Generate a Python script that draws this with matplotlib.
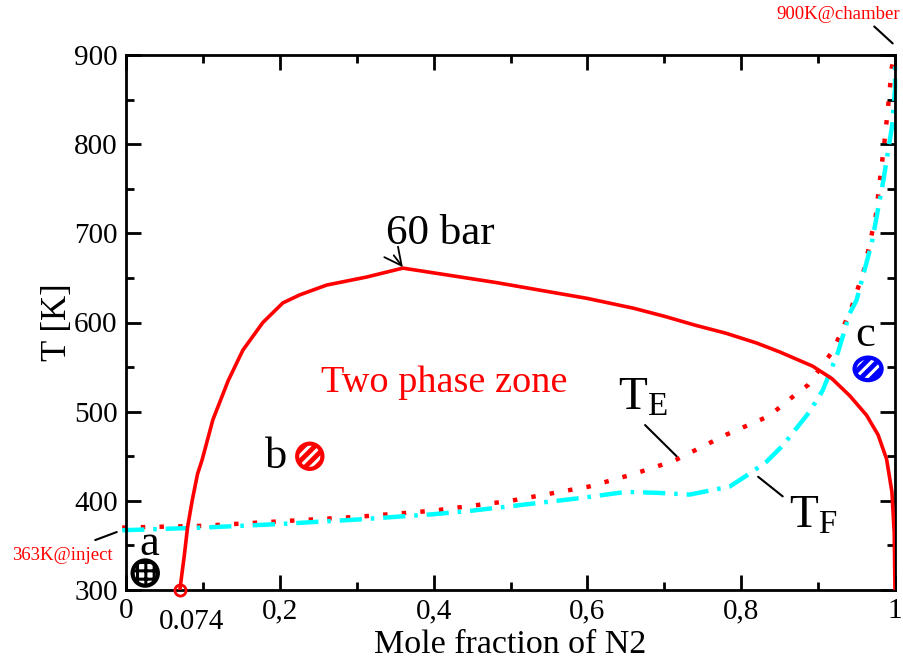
import numpy as np
import matplotlib
matplotlib.use("Agg")
import matplotlib.pyplot as plt
from matplotlib.path import Path
from matplotlib.transforms import Affine2D
from matplotlib.ticker import MultipleLocator, FixedLocator, FixedFormatter

plt.rcParams['font.family'] = ['Liberation Serif', 'DejaVu Serif']
plt.rcParams['mathtext.fontset'] = 'custom'
plt.rcParams['mathtext.rm'] = 'Liberation Serif'
plt.rcParams['mathtext.it'] = 'Liberation Serif'

# ---- data ----
# 60 bar phase boundary (red solid)
bound_x = [0.070, 0.076, 0.080, 0.086, 0.093, 0.099, 0.113, 0.133, 0.152, 0.178, 0.204,
           0.226, 0.261, 0.313, 0.360, 0.420, 0.480, 0.540, 0.600, 0.660, 0.700, 0.740,
           0.780, 0.820, 0.850, 0.893, 0.918, 0.941, 0.963, 0.978, 0.989, 0.996, 0.999, 1.000]
bound_T = [300, 340, 370, 400, 430, 446, 491, 535, 569, 600, 622,
           631, 642, 651, 661, 653, 645, 636, 627, 616, 607, 597,
           588, 577, 567, 551, 537, 518, 496, 474, 447, 410, 364, 300]

# T_E (red dotted)
te_x = [-0.005, 0.1, 0.2, 0.3, 0.4, 0.5, 0.602, 0.66, 0.713, 0.78, 0.836, 0.866, 0.887,
        0.919, 0.93, 0.944, 0.96, 0.975, 0.987, 0.991, 0.996, 1.0]
te_T = [370, 372, 377, 382, 389, 400, 416, 430, 445, 474, 495, 516, 530,
        568, 589, 618, 660, 720, 808, 842, 887, 900]

# T_F (cyan dash-dot)
tf_x = [-0.005, 0.1, 0.2, 0.3, 0.4, 0.45, 0.5, 0.59, 0.65, 0.69, 0.733, 0.785, 0.81,
        0.833, 0.854, 0.889, 0.906, 0.915, 0.926, 0.941, 0.95, 0.97, 0.985, 0.996, 1.0, 1.0]
tf_T = [367, 370, 374, 379, 385, 389, 394, 403, 410, 409, 407, 416, 430,
        444, 462, 500, 524, 543, 567, 610, 625, 690, 760, 819, 861, 895]

# state points a, b, c
pt_labels = ['a', 'b', 'c']
pt_x = [0.025, 0.239, 0.965]
pt_T = [319, 450, 548]

xtick_vals = [0, 0.2, 0.4, 0.6, 0.8, 1]
xtick_labels = ['0', '0,2', '0,4', '0,6', '0,8', '1']
ytick_vals = [300, 400, 500, 600, 700, 800, 900]

fig = plt.figure(figsize=(9.04, 6.62), dpi=100)
ax = fig.add_axes([126/904, 1-590/662, (895-126)/904, (590-55)/662])

ax.plot(bound_x, bound_T, color='red', lw=2.6, zorder=3, solid_joinstyle='round')
ax.plot([bound_x[0]], [bound_T[0]], 'o', mfc='none', mec='red', ms=8, mew=2,
        clip_on=False, zorder=4)
ax.plot(te_x, te_T, color='red', lw=3.2, ls=(0, (1, 3.2)), dash_capstyle='butt',
        clip_on=False, zorder=2)
ax.plot(tf_x, tf_T, color='#00ffff', lw=3.2, ls=(0, (5, 2, 0.8, 2)), dash_capstyle='butt',
        clip_on=False, zorder=2)

# hatched markers
circ = Path.unit_circle()
ell = circ.transformed(Affine2D().scale(1.2, 1.0))
plt.rcParams['hatch.linewidth'] = 2.2
styles = [
    dict(face='white', hatchc='black', edge='black', hatch='++', marker=circ, s=330),
    dict(face='red', hatchc='white', edge='red', hatch='///', marker=circ, s=330),
    dict(face='blue', hatchc='white', edge='blue', hatch='///', marker=ell, s=380),
]
for i, st in enumerate(styles):
    with plt.rc_context({'hatch.color': st['hatchc']}):
        ax.scatter([pt_x[i]], [pt_T[i]], s=st['s'], marker=st['marker'], facecolor=st['face'],
                   edgecolors=st['hatchc'], linewidths=0, hatch=st['hatch'], zorder=5,
                   clip_on=False)
    ax.scatter([pt_x[i]], [pt_T[i]], s=st['s'], marker=st['marker'], facecolor='none',
               edgecolors=st['edge'], linewidths=3, zorder=6, clip_on=False)

ax.text(0.030, 352, pt_labels[0], fontsize=32, ha='center', va='center')
ax.text(0.195, 449, pt_labels[1], fontsize=32, ha='center', va='center')
ax.text(0.961, 586, pt_labels[2], fontsize=32, ha='center', va='center')

ax.text(0.414, 532, 'Two phase zone', color='red', fontsize=27.5, ha='center', va='center')

ax.annotate('60 bar', xy=(0.360, 662), xytext=(0.409, 700), fontsize=31,
            ha='center', va='center',
            arrowprops=dict(arrowstyle='->', color='black', lw=1.3,
                            shrinkA=0, shrinkB=0, relpos=(0.05, 0.0)))

ax.annotate('', xy=(0.716, 450), xytext=(0.675, 485),
            arrowprops=dict(arrowstyle='-', color='black', lw=1.5, shrinkA=0, shrinkB=0))
ax.text(0.672, 515, r'$\mathrm{T_E}$', fontsize=34, ha='center', va='center')

ax.annotate('', xy=(0.822, 427), xytext=(0.854, 405),
            arrowprops=dict(arrowstyle='-', color='black', lw=1.5, shrinkA=0, shrinkB=0))
ax.text(0.893, 382, r'$\mathrm{T_F}$', fontsize=34, ha='center', va='center')

ax.text(-0.083, 339, '363K@inject', color='red', fontsize=13.5, ha='center', va='center',
        clip_on=False)
ax.annotate('', xy=(-0.012, 365), xytext=(-0.040, 356),
            arrowprops=dict(arrowstyle='-', color='black', lw=1.5, shrinkA=0, shrinkB=0),
            annotation_clip=False)
ax.text(0.926, 945, '900K@chamber', color='red', fontsize=13.5, ha='center', va='center',
        clip_on=False)
ax.annotate('', xy=(0.997, 913), xytext=(0.973, 932),
            arrowprops=dict(arrowstyle='-', color='black', lw=1.5, shrinkA=0, shrinkB=0),
            annotation_clip=False)

ax.text(0.085, -0.035, '0.074', transform=ax.get_xaxis_transform(), fontsize=21,
        ha='center', va='top')

ax.set_xlim(0, 1)
ax.set_ylim(300, 900)
ax.xaxis.set_major_locator(FixedLocator(xtick_vals))
ax.xaxis.set_major_formatter(FixedFormatter(xtick_labels))
ax.xaxis.set_minor_locator(MultipleLocator(0.1))
ax.yaxis.set_major_locator(FixedLocator(ytick_vals))
ax.yaxis.set_minor_locator(MultipleLocator(50))
ax.tick_params(which='both', direction='in', top=True, right=True, width=2, labelsize=21)
ax.tick_params(which='major', length=11, pad=6)
ax.tick_params(which='minor', length=6)
for sp in ax.spines.values():
    sp.set_linewidth(2)

ax.set_xlabel('Mole fraction of N2', fontsize=24.5, labelpad=4)
ax.set_ylabel('T [K]', fontsize=25, labelpad=0)

fig.savefig('out.png', dpi=100)
